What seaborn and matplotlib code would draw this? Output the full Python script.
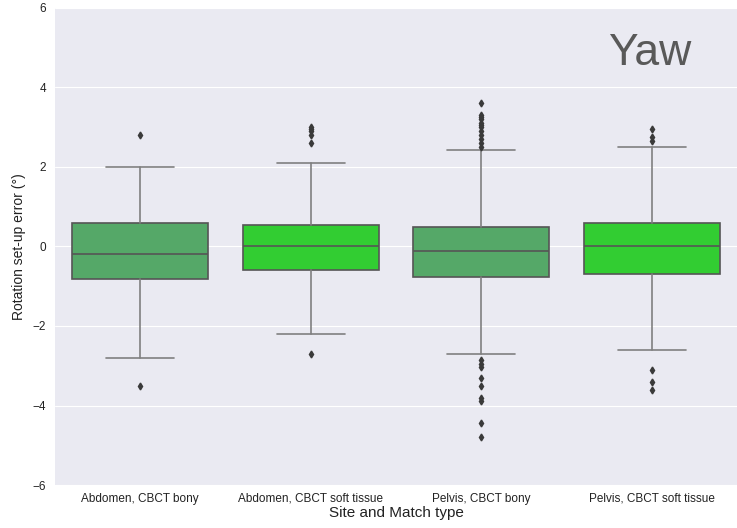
import matplotlib
matplotlib.use('Agg')
import matplotlib.pyplot as plt
import seaborn as sns

# box summary values (degrees)
categories = ['Abdomen, CBCT bony', 'Abdomen, CBCT soft tissue', 'Pelvis, CBCT bony', 'Pelvis, CBCT soft tissue']
medians = [-0.20, 0.00, -0.12, 0.00]
q1 = [-0.83, -0.58, -0.78, -0.70]
q3 = [0.60, 0.53, 0.48, 0.60]
whisk_lo = [-2.80, -2.20, -2.70, -2.60]
whisk_hi = [2.00, 2.10, 2.42, 2.50]
fliers = [
    [2.80, -3.50],
    [3.00, 2.95, 2.90, 2.80, 2.60, -2.70],
    [3.60, 3.30, 3.25, 3.20, 3.10, 3.05, 3.00, 2.90, 2.80, 2.70, 2.60, 2.50,
     -2.85, -2.95, -3.04, -3.30, -3.50, -3.80, -3.88, -4.43, -4.80],
    [2.95, 2.75, 2.65, -3.10, -3.40, -3.60],
]
box_colors = ['#55A868', '#32CD32', '#55A868', '#32CD32']
yticks = [-6, -4, -2, 0, 2, 4, 6]

sns.set_style('darkgrid')
plt.rcParams['font.family'] = ['Liberation Sans', 'DejaVu Sans']

dpi = 100
fig = plt.figure(figsize=(737 / dpi, 528 / dpi), dpi=dpi)
ax = fig.add_axes([0.0746, 0.0814, 0.9254, 0.9036])

stats = []
for i, cat in enumerate(categories):
    stats.append({
        'label': cat, 'med': medians[i], 'q1': q1[i], 'q3': q3[i],
        'whislo': whisk_lo[i], 'whishi': whisk_hi[i], 'fliers': fliers[i],
    })

edge = '#555555'
bp = ax.bxp(
    stats, positions=range(len(categories)), widths=0.8, patch_artist=True,
    boxprops=dict(edgecolor=edge, linewidth=1.2),
    medianprops=dict(color=edge, linewidth=1.2),
    whiskerprops=dict(color='#808080', linewidth=1.2),
    capprops=dict(color='#808080', linewidth=1.2),
    flierprops=dict(marker='d', markersize=3.5, markerfacecolor='#3a3a3a',
                    markeredgecolor='#3a3a3a', linestyle='none'),
)
for patch, c in zip(bp['boxes'], box_colors):
    patch.set_facecolor(c)

ax.set_xlim(-0.5, len(categories) - 0.5)
ax.set_ylim(-6, 6)
ax.set_yticks(yticks)
ax.set_yticklabels([str(t).replace('-', '\u2212') for t in yticks])
ax.grid(axis='x', visible=False)
ax.tick_params(axis='x', labelsize=8.5, colors='#222222', pad=2)
ax.tick_params(axis='y', labelsize=8.5, colors='#222222', pad=3)
for s in ax.spines.values():
    s.set_visible(False)

ax.set_xlabel('Site and Match type', fontsize=11, color='#222222', labelpad=1)
ax.set_ylabel('Rotation set-up error (°)', fontsize=10, color='#222222', labelpad=5)

ax.text(2.99, 4.85, 'Yaw', fontsize=32, color='#595959', ha='center', va='center')

fig.savefig('out.png', dpi=dpi)
